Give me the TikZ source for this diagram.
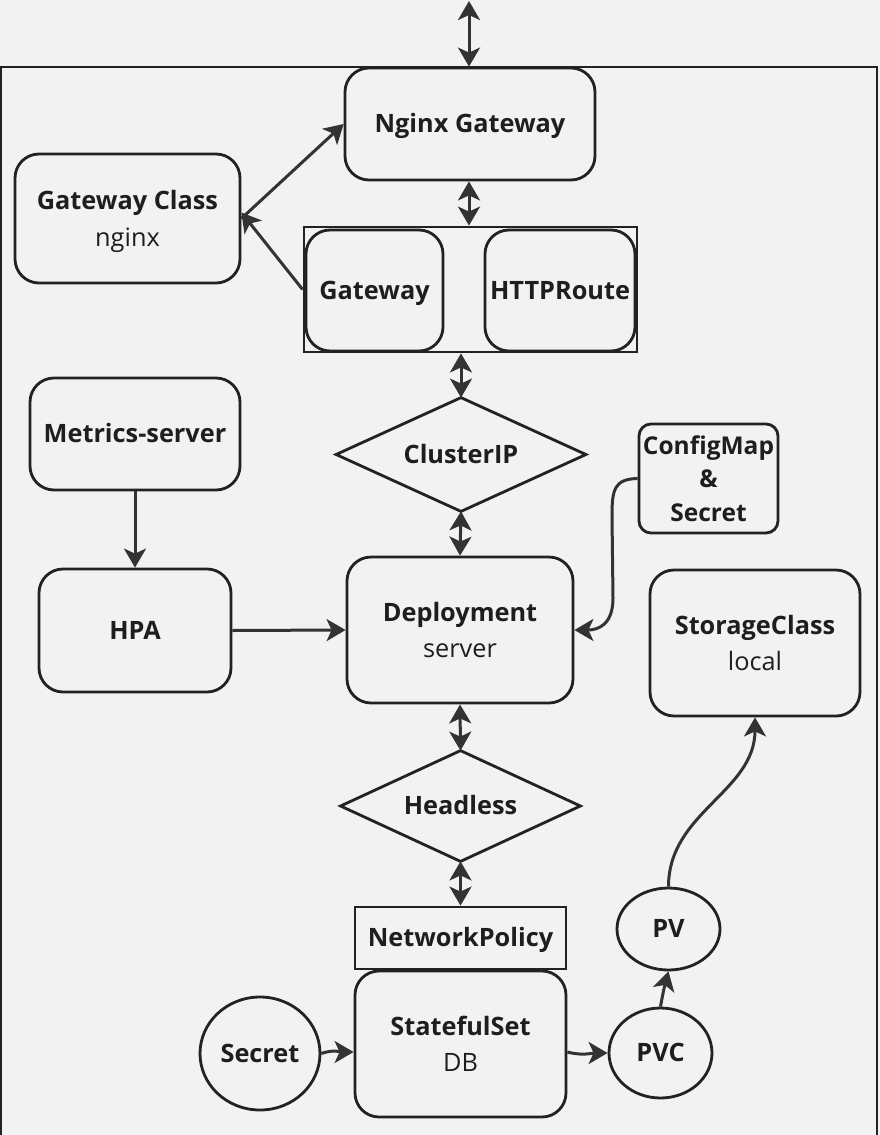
\documentclass[tikz,border=0pt]{standalone}
\usepackage{fontspec}
\setmainfont{Open Sans}
\usetikzlibrary{arrows.meta,shapes.geometric}
\definecolor{bg}{HTML}{F2F2F2}
\definecolor{ln}{HTML}{222222}
\definecolor{ar}{HTML}{333333}
\definecolor{tx}{HTML}{1E1E1E}
\begin{document}
\begin{tikzpicture}[x=1pt,y=-1pt,
  base/.style={draw=ln, line width=2.8pt, align=center, inner sep=0pt, text=tx,
    font=\fontsize{25.3}{36.5}\selectfont\bfseries},
  one/.style={text height=17.5pt, text depth=0pt},
  box/.style={base, rounded corners=24pt},
  sbox/.style={base, rounded corners=12pt, font=\fontsize{24.5}{33.5}\selectfont\bfseries},
  sq/.style={base},
  ell/.style={base, ellipse},
  dia/.style={base, draw=none},
  diaedge/.style={draw=ln, line width=2.8pt},
  arr/.style={draw=ar, line width=3pt, -{Stealth[length=19pt,width=22pt,inset=5pt]}},
  darr/.style={draw=ar, line width=3pt, {Stealth[length=19pt,width=22pt,inset=5pt]}-{Stealth[length=19pt,width=22pt,inset=5pt]}},
  sz/.style n args={2}{minimum width=#1pt, minimum height=#2pt}
]
\useasboundingbox[fill=bg] (0,0) rectangle (880,1135);
% outer frame
\draw[ln, line width=2.8pt] (1,1150) -- (1,67) -- (877,67) -- (877,1150);
\coordinate (top) at (469,1);

\node[box, one, sz={250}{112}] (ng) at (470,124) {Nginx Gateway};
\node[box, sz={225}{129}] (gc) at (127.5,218.5) {Gateway Class\\{\mdseries\smash{nginx}}};
\node[sq, sz={333}{125}] (cont) at (470.5,289.5) {};
\node[box, one, sz={137}{121}] (gw) at (374.5,290.5) {Gateway};
\node[box, one, sz={150}{121}] (hr) at (560,290.5) {HTTPRoute};
\node[dia, one, sz={247}{111}] (cip) at (461,454.5) {ClusterIP};
\draw[diaedge] (cip.north) -- (cip.east) -- (cip.south) -- (cip.west) -- cycle;
\node[box, sz={226}{146}] (dep) at (460,630) {Deployment\\{\mdseries server}};
\node[box, one, sz={210}{112}] (ms) at (135,434) {Metrics-server};
\node[box, one, sz={192}{123}] (hpa) at (135,630.5) {HPA};
\node[sbox, sz={139}{109}] (cm) at (708.5,478.5) {ConfigMap\\\&\\Secret};
\node[box, sz={210}{146}] (sc) at (755,643) {StorageClass\\{\mdseries local}};
\node[dia, one, sz={237}{108}] (hl) at (460.5,806) {Headless};
\draw[diaedge] (hl.north) -- (hl.east) -- (hl.south) -- (hl.west) -- cycle;
\node[sq, one, sz={211}{62}] (np) at (460.5,938) {NetworkPolicy};
\node[box, sz={211}{146}] (ss) at (460.5,1044) {StatefulSet\\{\mdseries DB}};
\node[ell, one, sz={120}{113}] (sec) at (260,1053.5) {Secret};
\node[ell, one, sz={103}{90}] (pvc) at (660.5,1053) {PVC};
\node[ell, one, sz={103}{82}] (pv) at (668.5,929) {PV};

% connectors
\draw[darr] (top) -- ([xshift=-1pt]ng.north);
\draw[darr] ([xshift=-1pt]ng.south) -- ([xshift=-1pt]ng.south |- cont.north);
\draw[arr] (gc.east) -- (ng.west);
\draw[arr] (cont.west) -- ([yshift=6pt]gc.east);
\draw[darr] (cip.north |- cont.south) -- (cip.north);
\draw[darr] (cip.south) -- (dep.north);
\draw[arr] (ms.south) -- (hpa.north);
\draw[arr] (hpa.east) -- (dep.west);
\draw[arr] (cm.west) .. controls (614,479) and (612,490) .. (612,516) -- (613,598) .. controls (613,625) and (598,630) .. (dep.east);
\draw[darr] (dep.south) -- (hl.north);
\draw[darr] (hl.south) -- (np.north);
\draw[arr] (sec.east) to[out=20,in=180] ([yshift=-8pt]ss.west);
\draw[arr] ([yshift=-8pt]ss.east) to[out=-15,in=180] (pvc.west);
\draw[arr] (pvc.north) to[out=80,in=-105] (pv.south);
\draw[arr] (pv.north) to[out=90,in=-90] (sc.south);
\end{tikzpicture}
\end{document}
